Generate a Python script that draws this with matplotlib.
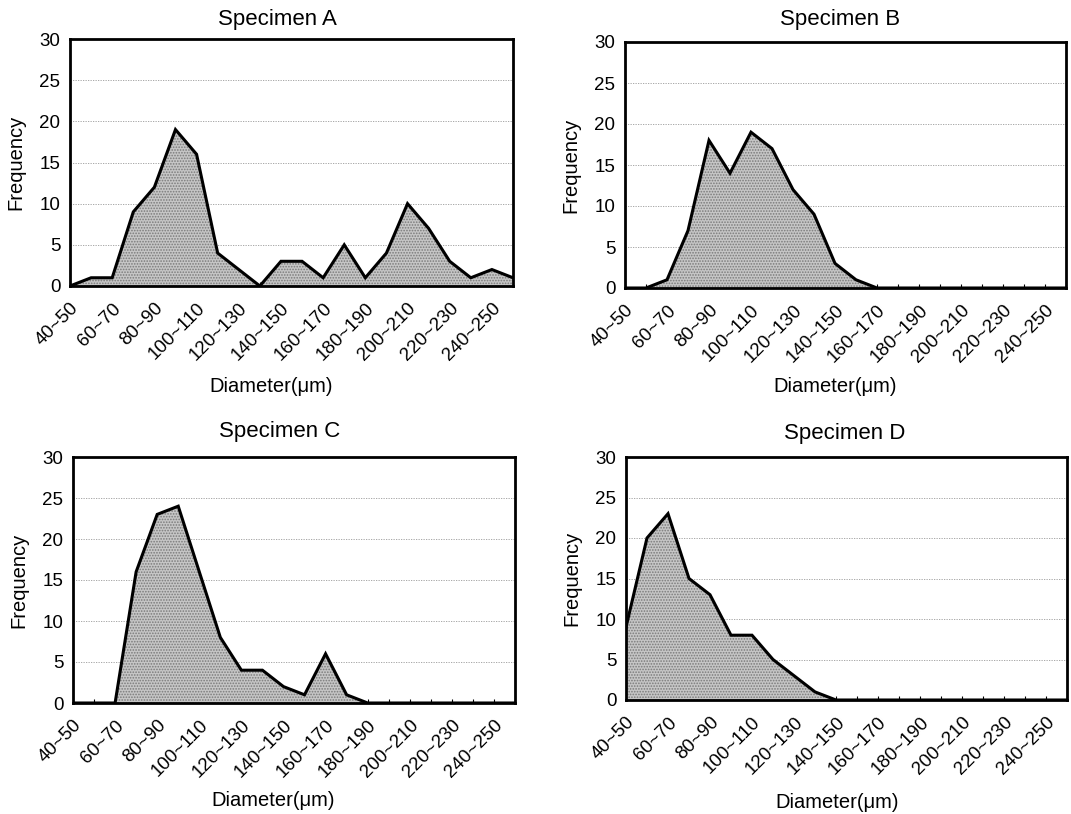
import numpy as np
import matplotlib
matplotlib.use("Agg")
import matplotlib.pyplot as plt
from matplotlib.transforms import ScaledTranslation

plt.rcParams['font.family'] = ['Liberation Sans', 'DejaVu Sans']
plt.rcParams['hatch.linewidth'] = 0.8

W, H = 1071, 814

# Diameter classes (um), 10 um bins from 40 to 260
categories = ["40~50", "50~60", "60~70", "70~80", "80~90", "90~100", "100~110",
              "110~120", "120~130", "130~140", "140~150", "150~160", "160~170",
              "170~180", "180~190", "190~200", "200~210", "210~220", "220~230",
              "230~240", "240~250", "250~260"]

freq_a = [0, 1, 1, 9, 12, 19, 16, 4, 2, 0, 3, 3, 1, 5, 1, 4, 10, 7, 3, 1, 2, 1]
freq_b = [0, 0, 1, 7, 18, 14, 19, 17, 12, 9, 3, 1, 0, 0, 0, 0, 0, 0, 0, 0, 0, 0]
freq_c = [0, 0, 0, 16, 23, 24, 16, 8, 4, 4, 2, 1, 6, 1, 0, 0, 0, 0, 0, 0, 0, 0]
freq_d = [9, 20, 23, 15, 13, 8, 8, 5, 3, 1, 0, 0, 0, 0, 0, 0, 0, 0, 0, 0, 0, 0]

titles = ["Specimen A", "Specimen B", "Specimen C", "Specimen D"]
series = [freq_a, freq_b, freq_c, freq_d]

# layout in pixels: axes box (x0, y0, x1, y1), title centre, xlabel centre
boxes = [(70, 39, 513, 286), (625, 42, 1066, 288),
         (73, 457, 515, 703), (626, 457, 1067, 700)]
title_pos = [(277, 20), (840, 19), (280, 431), (845, 433)]
xlabel_pos = [(271, 386), (835, 386), (273, 801), (837, 802)]

fig = plt.figure(figsize=(W / 100, H / 100), dpi=100)
x = np.arange(len(categories))

for (x0, y0, x1, y1), title, tp, xp, y in zip(boxes, titles, title_pos, xlabel_pos, series):
    ax = fig.add_axes([x0 / W, 1 - y1 / H, (x1 - x0) / W, (y1 - y0) / H])
    ax.fill_between(x, y, 0, facecolor='#c6c6c6', edgecolor='#7a7a7a',
                    hatch='......', linewidth=0, zorder=2)
    ax.plot(x, y, color='black', lw=2.2, zorder=3, solid_joinstyle='miter')
    ax.set_xlim(0, len(categories) - 1)
    ax.set_ylim(0, 30)
    ax.set_yticks(range(0, 31, 5))
    ax.yaxis.grid(True, color='#9a9a9a', lw=0.6, ls=(0, (1.5, 1.5)), zorder=1)
    ax.set_xticks(x[::2])
    ax.set_xticklabels(categories[::2], rotation=45, ha='right',
                       rotation_mode='anchor', fontsize=13.5)
    # nudge rotated labels a little right, as in the original
    shift = ScaledTranslation(4 / 72, 0, fig.dpi_scale_trans)
    for lab in ax.get_xticklabels():
        lab.set_transform(lab.get_transform() + shift)
    ax.set_xticks(x, minor=True)
    ax.tick_params(axis='x', which='both', direction='in', length=3, width=0.8, pad=10)
    ax.tick_params(axis='y', length=0, pad=7, labelsize=13.5)
    for s in ax.spines.values():
        s.set_linewidth(2)
        s.set_zorder(4)
    ax.set_ylabel("Frequency", fontsize=14.5, labelpad=10)
    fig.text(tp[0] / W, 1 - tp[1] / H, title, fontsize=16, ha='center', va='center')
    fig.text(xp[0] / W, 1 - xp[1] / H, "Diameter(\u03bcm)", fontsize=14.5,
             ha='center', va='center')

fig.savefig("out.png", dpi=100)
